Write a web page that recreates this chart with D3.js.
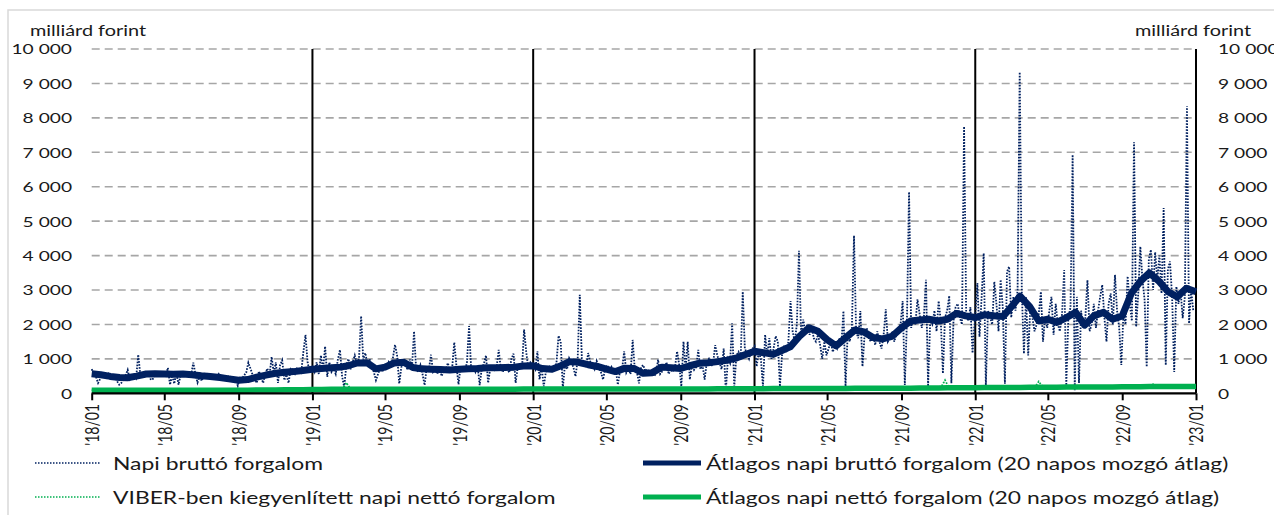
<!DOCTYPE html>
<html>
<head>
<meta charset="utf-8">
<script src="https://cdn.jsdelivr.net/npm/d3@7/dist/d3.min.js"></script>
<style>
  body { margin: 0; background: #fff; }
  svg text { font-family: Lato, "Noto Sans", sans-serif; fill: #1a1a1a; }
</style>
</head>
<body>
<div id="content"></div>
<script>
const years = [2018, 2019, 2020, 2021, 2022];

// Napi bruttó forgalom, félheti minták (3,5 naponként), milliárd Ft
const gross2018 = [700, 560, 480, 300, 420, 600, 520, 450,
  560, 380, 480, 520, 350, 250, 300, 420,
  520, 680, 400, 480, 560, 450, 1120, 500,
  560, 620, 480, 540, 390, 420, 600, 520,
  560, 480, 600, 520, 740, 250, 520, 280,
  600, 250, 520, 560, 480, 600, 520, 540,
  890, 560, 310, 480, 360, 520, 600, 480,
  540, 420, 520, 480, 560, 440, 500, 420,
  460, 520, 380, 440, 400, 220, 480, 420,
  520, 600, 890, 720, 540, 420, 300, 640,
  480, 300, 560, 720, 520, 1060, 600, 900,
  300, 820, 960, 380, 540, 300, 700, 640,
  560, 720, 660, 600, 1200, 1700, 900, 620];
const gross2019 = [760, 620, 900, 560, 1100, 700, 1360, 480,
  900, 620, 720, 560, 980, 1260, 500, 180,
  820, 1000, 700, 900, 1100, 860, 1000, 2240,
  980, 1170, 820, 1000, 760, 620, 380, 560,
  720, 620, 800, 680, 900, 760, 1020, 1410,
  1100, 280, 760, 900, 820, 680, 980, 720,
  1800, 700, 620, 820, 560, 235, 760, 680,
  1120, 620, 700, 560, 780, 500, 640, 700,
  880, 620, 720, 1480, 820, 260, 760, 700,
  620, 900, 1950, 700, 760, 620, 820, 240,
  720, 860, 1100, 300, 720, 800, 680, 760,
  1260, 700, 620, 840, 720, 600, 1000, 1150,
  300, 760, 820, 700, 1850, 1200, 720, 900];
const gross2020 = [820, 700, 1220, 400, 760, 200, 620, 720,
  800, 640, 700, 880, 1670, 1500, 150, 820,
  700, 1020, 900, 760, 490, 960, 2860, 1000,
  880, 760, 1170, 900, 820, 700, 940, 760,
  620, 400, 700, 820, 640, 760, 560, 700,
  250, 640, 700, 1220, 600, 720, 560, 1550,
  700, 620, 290, 760, 820, 640, 700, 560,
  600, 500, 560, 975, 560, 640, 700, 900,
  560, 700, 620, 760, 1220, 820, 200, 1500,
  700, 1500, 400, 820, 680, 760, 1260, 700,
  820, 400, 900, 1000, 780, 860, 1400, 1100,
  900, 700, 1300, 60, 1000, 880, 2030, 200,
  1100, 1200, 960, 2950, 1300, 1160, 1000, 1250];
const gross2021 = [1370, 780, 1200, 1000, 200, 1700, 1100, 1600,
  1000, 1300, 1660, 1500, 200, 1100, 1400, 1200,
  1500, 2680, 1800, 1500, 2000, 4140, 1700, 2140,
  1800, 2000, 1700, 1900, 1600, 1500, 1700, 1400,
  1000, 1500, 1100, 1300, 1500, 1200, 1400, 1300,
  1600, 1400, 2390, 200, 1700, 1500, 1900, 4580,
  1800, 1600, 2390, 780, 1700, 1900, 1600, 1500,
  1700, 1400, 1800, 1500, 1300, 1700, 2440, 1500,
  1600, 1800, 1500, 1700, 1900, 2000, 2680, 240,
  2100, 5850, 1900, 2200, 2000, 2730, 2300, 1900,
  2200, 3300, 200, 2100, 2000, 2400, 1800, 2680,
  2100, 580, 2200, 2400, 2830, 290, 2100, 2500,
  2600, 2200, 2000, 7750, 2300, 2100, 2500, 1170];
const gross2022 = [2300, 3200, 1640, 2800, 4070, 230, 2400, 2200,
  2000, 3240, 2600, 1800, 3300, 2500, 280, 3530,
  3680, 2200, 2800, 2400, 3000, 9330, 2900, 1150,
  2800, 1100, 2500, 2200, 1800, 2000, 2300, 2950,
  1500, 2200, 1900, 2400, 2800, 1700, 2600, 2000,
  1800, 2300, 3580, 230, 2200, 2500, 6930, 90,
  2800, 300, 2400, 1900, 2200, 3290, 1800, 2000,
  2600, 1900, 2400, 2800, 3150, 2200, 1500, 2600,
  2900, 2000, 3440, 2400, 1900, 820, 2300, 2000,
  3400, 2600, 2100, 7290, 1930, 2900, 4260, 3300,
  2710, 770, 3900, 4170, 3000, 4100, 3300, 4000,
  2900, 5380, 820, 3600, 3830, 2800, 620, 3100,
  2600, 3000, 2180, 2800, 8340, 2030, 3000, 2400];

// 20 napos mozgó átlag, havonta 1-jén és 16-án
const grossMa2018 = [570, 540, 490, 460, 450, 500, 560, 570, 560, 550, 560, 540,
  510, 490, 460, 420, 380, 400, 470, 530, 580, 610, 630, 660];
const grossMa2019 = [700, 720, 740, 760, 800, 880, 890, 710, 760, 880, 900, 750,
  710, 700, 690, 680, 700, 710, 720, 740, 740, 750, 760, 790];
const grossMa2020 = [800, 720, 700, 800, 920, 900, 830, 780, 700, 630, 730, 720,
  580, 600, 760, 740, 720, 800, 870, 890, 920, 960, 1020, 1120];
const grossMa2021 = [1220, 1180, 1130, 1250, 1350, 1650, 1900, 1800, 1560, 1380, 1620, 1840,
  1780, 1620, 1580, 1650, 1900, 2100, 2130, 2150, 2100, 2150, 2320, 2250];
const grossMa2022 = [2200, 2280, 2250, 2230, 2500, 2820, 2520, 2100, 2150, 2060, 2200, 2350,
  1980, 2250, 2350, 2150, 2250, 2900, 3250, 3500, 3250, 2950, 2800, 3050];
const grossMaLast = 2950; // 2023/01/01

// VIBER-ben kiegyenlített napi nettó forgalom, heti minták
const net2018 = [90, 80, 95, 85, 100, 80, 90, 85, 95, 90, 85, 100, 80,
  90, 95, 80, 90, 100, 85, 90, 80, 95, 90, 85, 100, 80,
  90, 95, 85, 90, 85, 100, 90, 80, 95, 90, 85, 100, 90,
  85, 95, 90, 100, 85, 95, 90, 110, 95, 105, 100, 120, 100];
const net2019 = [110, 100, 120, 105, 130, 95, 115, 110, 310, 120, 105, 115, 100,
  120, 110, 95, 125, 115, 105, 120, 110, 100, 125, 115, 110, 95,
  115, 125, 110, 120, 105, 125, 110, 115, 100, 130, 110, 120, 125,
  100, 115, 110, 125, 120, 100, 110, 125, 115, 130, 110, 125, 120];
const net2020 = [120, 130, 110, 125, 140, 105, 120, 130, 115, 125, 135, 105, 120,
  140, 115, 125, 130, 105, 125, 115, 140, 120, 110, 130, 125, 105,
  130, 120, 115, 140, 125, 130, 110, 125, 140, 105, 130, 120, 140,
  115, 120, 130, 120, 150, 110, 130, 120, 140, 130, 120, 150, 130];
const net2021 = [140, 120, 130, 150, 110, 140, 130, 120, 150, 130, 140, 110, 150,
  130, 140, 120, 150, 140, 130, 160, 140, 130, 150, 120, 140, 160,
  130, 150, 140, 130, 160, 140, 150, 130, 160, 150, 140, 170, 150,
  140, 160, 150, 170, 140, 160, 380, 150, 170, 160, 150, 170, 160];
const net2022 = [170, 150, 180, 160, 170, 190, 160, 180, 170, 200, 160, 180, 170,
  190, 160, 340, 180, 170, 190, 160, 180, 170, 190, 160, 180, 170,
  200, 170, 180, 190, 170, 200, 180, 170, 210, 190, 180, 200, 190,
  210, 180, 200, 260, 190, 210, 200, 190, 250, 200, 210, 190, 230];

const netMa2018 = [85, 85, 88, 88, 90, 90, 90, 90, 90, 90, 90, 90,
  90, 90, 90, 90, 92, 92, 94, 95, 98, 100, 102, 105];
const netMa2019 = [110, 112, 115, 118, 118, 115, 115, 115, 115, 115, 115, 115,
  115, 115, 115, 115, 118, 118, 118, 118, 120, 120, 120, 122];
const netMa2020 = [122, 122, 122, 124, 124, 124, 124, 124, 124, 124, 125, 125,
  125, 125, 125, 127, 127, 128, 128, 128, 130, 130, 132, 135];
const netMa2021 = [135, 135, 136, 136, 138, 138, 140, 140, 142, 142, 143, 145,
  145, 145, 147, 148, 150, 150, 152, 152, 156, 158, 160, 160];
const netMa2022 = [163, 165, 166, 168, 170, 172, 173, 175, 176, 178, 180, 180,
  182, 182, 185, 186, 188, 190, 193, 195, 197, 198, 200, 200];
const netMaLast = 200;

const yTicks = [0, 1000, 2000, 3000, 4000, 5000, 6000, 7000, 8000, 9000, 10000];
const unitLabel = "milliárd forint";
const seriesNames = ["Napi bruttó forgalom",
  "VIBER-ben kiegyenlített napi nettó forgalom",
  "Átlagos napi bruttó forgalom (20 napos mozgó átlag)",
  "Átlagos napi nettó forgalom (20 napos mozgó átlag)"];

const navy = "#002060", green = "#00b050";
const sx = 1.37; // az eredeti kép vízszintesen nyújtott, a szöveg is

const width = 1274, height = 515;

const x = d3.scaleTime()
  .domain([new Date(2018, 0, 1), new Date(2023, 0, 1)])
  .range([91.7, 1196]);

const y = d3.scaleLinear()
  .domain([0, 10000])
  .range([393.3, 49]);

const fmt = d3.formatLocale({ decimal: ",", thousands: " ", grouping: [3], currency: ["", " Ft"] }).format(",d");
const fmtDate = d3.timeFormat("%y/%m");

// sorozatok dátumokkal
const halfWeekly = (arr, yr) => arr.map((v, i) => ({ date: d3.timeHour.offset(new Date(yr, 0, 1), i * 84), value: v }));
const weekly = (arr, yr) => arr.map((v, i) => ({ date: d3.timeDay.offset(new Date(yr, 0, 1), i * 7), value: v }));
const semiMonthly = (arr, yr) => arr.map((v, k) => ({ date: new Date(yr, Math.floor(k / 2), k % 2 ? 16 : 1), value: v }));

const grossDaily = [gross2018, gross2019, gross2020, gross2021, gross2022].flatMap((a, k) => halfWeekly(a, years[k]));
const netDaily = [net2018, net2019, net2020, net2021, net2022].flatMap((a, k) => weekly(a, years[k]));
const grossMa = [grossMa2018, grossMa2019, grossMa2020, grossMa2021, grossMa2022].flatMap((a, k) => semiMonthly(a, years[k]))
  .concat([{ date: new Date(2023, 0, 1), value: grossMaLast }]);
const netMa = [netMa2018, netMa2019, netMa2020, netMa2021, netMa2022].flatMap((a, k) => semiMonthly(a, years[k]))
  .concat([{ date: new Date(2023, 0, 1), value: netMaLast }]);

const line = d3.line()
  .x(d => x(d.date))
  .y(d => y(d.value));

const svg = d3.select('#content').append('svg')
  .attr('width', width)
  .attr('height', height)
  .style('display', 'block');

// nyújtott szöveg
function label(px, py, str, size, anchor, rotate) {
  return svg.append('text')
    .attr('transform', `translate(${px},${py}) scale(${sx},1)` + (rotate ? ` rotate(${rotate})` : ''))
    .attr('text-anchor', anchor)
    .attr('dominant-baseline', 'central')
    .style('font-size', size + 'px')
    .text(str);
}

// keret
svg.append('rect')
  .attr('x', 8).attr('y', 10)
  .attr('width', width).attr('height', height)
  .attr('fill', 'none')
  .attr('stroke', '#d9d9d9')
  .attr('stroke-width', 1.5);

// rácsvonalak
svg.append('g')
  .selectAll('line')
  .data(yTicks.filter(v => v > 0))
  .join('line')
  .attr('x1', x.range()[0]).attr('x2', x.range()[1])
  .attr('y1', d => y(d)).attr('y2', d => y(d))
  .attr('stroke', '#a6a6a6')
  .attr('stroke-width', 1.6)
  .attr('stroke-dasharray', '8,5');

// évváltások
svg.append('g')
  .selectAll('line')
  .data(d3.timeYear.range(new Date(2019, 0, 1), new Date(2023, 0, 2)))
  .join('line')
  .attr('x1', d => x(d)).attr('x2', d => x(d))
  .attr('y1', y(10000)).attr('y2', y(0))
  .attr('stroke', '#000')
  .attr('stroke-width', 2);

svg.append('path')
  .datum(grossDaily)
  .attr('d', line)
  .attr('fill', 'none')
  .attr('stroke', navy)
  .attr('stroke-width', 1.8)
  .attr('stroke-dasharray', '1.6,1.4');

svg.append('path')
  .datum(netDaily)
  .attr('d', line)
  .attr('fill', 'none')
  .attr('stroke', green)
  .attr('stroke-width', 1.8)
  .attr('stroke-dasharray', '1.6,1.4');

svg.append('path')
  .datum(grossMa)
  .attr('d', line)
  .attr('fill', 'none')
  .attr('stroke', navy)
  .attr('stroke-width', 7)
  .attr('stroke-linejoin', 'round');

svg.append('path')
  .datum(netMa)
  .attr('d', line)
  .attr('fill', 'none')
  .attr('stroke', green)
  .attr('stroke-width', 5.5)
  .attr('stroke-linejoin', 'round');

// x tengely
const xAxis = svg.append('g')
  .attr('transform', `translate(0,${y(0)})`)
  .call(d3.axisBottom(x).ticks(d3.timeMonth.every(4)).tickSize(7).tickFormat(''));
xAxis.select('.domain').attr('stroke', '#000').attr('stroke-width', 2.2).attr('d', `M${x.range()[0]},0H${x.range()[1]}`);
xAxis.selectAll('.tick line').attr('stroke', '#000').attr('stroke-width', 2);

x.ticks(d3.timeMonth.every(4)).forEach(d => {
  label(x(d), 404, "'" + fmtDate(d), 14, 'end', -90);
});

// y feliratok két oldalon
yTicks.forEach(v => {
  label(72, y(v), fmt(v), 14, 'end');
  label(1218, y(v), fmt(v), 14, 'start');
});
label(30, 31, unitLabel, 14.5, 'start');
label(1135, 31, unitLabel, 14.5, 'start');

// jelmagyarázat
const legend = [
  { name: seriesNames[0], color: navy, w: 1.5, dash: '1.5,1.5', lx: 35, row: 0 },
  { name: seriesNames[1], color: green, w: 1.5, dash: '1.5,1.5', lx: 35, row: 1 },
  { name: seriesNames[2], color: navy, w: 5, dash: null, lx: 643, row: 0 },
  { name: seriesNames[3], color: green, w: 5, dash: null, lx: 643, row: 1 }
];
legend.forEach(d => {
  const ly = 463 + d.row * 34;
  const len = d.dash ? 65 : 58;
  svg.append('line')
    .attr('x1', d.lx).attr('x2', d.lx + len)
    .attr('y1', ly).attr('y2', ly)
    .attr('stroke', d.color)
    .attr('stroke-width', d.w)
    .attr('stroke-dasharray', d.dash);
  label(d.lx + len + (d.dash ? 13 : 5), ly, d.name, 16.7, 'start');
});
</script>
</body>
</html>
